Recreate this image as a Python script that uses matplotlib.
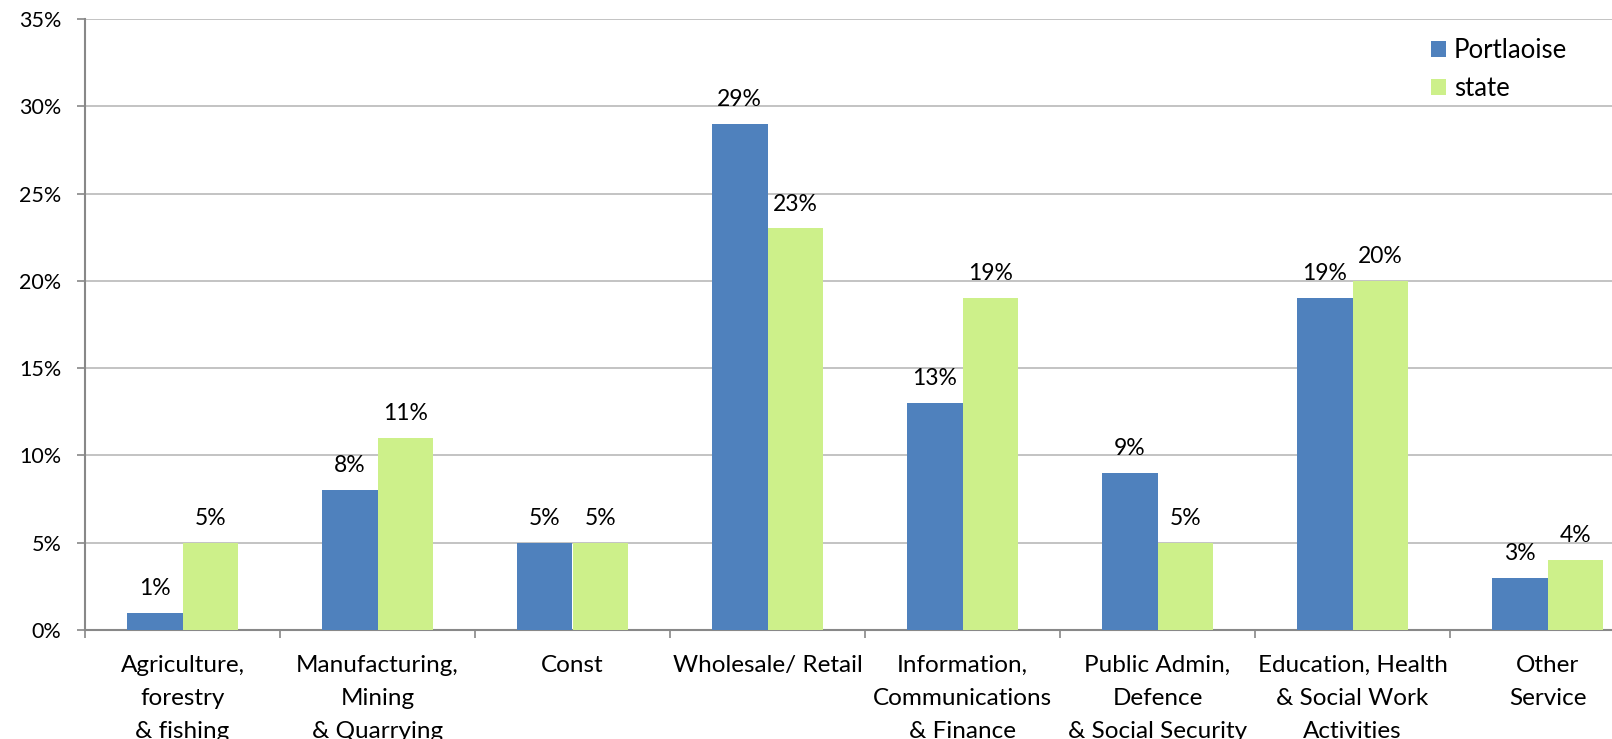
import matplotlib
matplotlib.use("Agg")
import matplotlib.pyplot as plt
import numpy as np

categories = [
    "Agriculture,\nforestry\n& fishing",
    "Manufacturing,\nMining\n& Quarrying",
    "Const",
    "Wholesale/ Retail",
    "Information,\nCommunications\n& Finance",
    "Public Admin,\nDefence\n& Social Security",
    "Education, Health\n& Social Work\nActivities",
    "Other\nService",
]
portlaoise = [1, 8, 5, 29, 13, 9, 19, 3]
state = [5, 11, 5, 23, 19, 5, 20, 4]
series_names = ["Portlaoise", "state"]
yticks = [0, 5, 10, 15, 20, 25, 30, 35]

plt.rcParams['font.family'] = ['Lato', 'DejaVu Sans']

W, H = 1612, 739
fig = plt.figure(figsize=(W / 100, H / 100), dpi=100)
left = 85 / W
bottom = 1 - 630 / H
top = 1 - 19 / H
right_px = 1645
ax = fig.add_axes([left, bottom, (right_px - 85) / W, top - bottom])

x = np.arange(len(categories))
bw = 0.285
blue = "#4F81BD"
green = "#CDF08A"
b1 = ax.bar(x - bw / 2, portlaoise, bw, color=blue, label=series_names[0], zorder=3)
b2 = ax.bar(x + bw / 2, state, bw, color=green, label=series_names[1], zorder=3)

for bars in (b1, b2):
    ax.bar_label(bars, labels=[f"{int(v)}%" for v in bars.datavalues],
                 padding=10, fontsize=16.5, color="black")

ax.set_xlim(-0.5, len(categories) - 0.5)
ax.set_ylim(0, 35)
ax.set_yticks(yticks)
ax.set_yticklabels([f"{v}%" for v in yticks], fontsize=15.5)
ax.yaxis.grid(True, color="#BEBEBE", linewidth=1.3, zorder=0)
ax.set_axisbelow(True)

# category boundaries as major ticks, labels as minor ticks
ax.set_xticks(np.arange(len(categories) + 1) - 0.5)
ax.set_xticklabels([])
ax.set_xticks(x, minor=True)
ax.set_xticklabels(categories, minor=True, fontsize=17.5, linespacing=1.7)
ax.tick_params(axis='x', which='major', length=5.5, width=1.2, color="#888888", direction='out')
ax.tick_params(axis='x', which='minor', length=0, pad=18)
ax.tick_params(axis='y', length=6, width=1.2, color="#888888", pad=11)

for s in ("top", "right"):
    ax.spines[s].set_visible(False)
for s in ("left", "bottom"):
    ax.spines[s].set_color("#888888")
    ax.spines[s].set_linewidth(1.5)

ax.legend(loc="upper left", bbox_to_anchor=(1431 / W, 1 - 38 / H),
          bbox_transform=fig.transFigure, frameon=False, fontsize=18.5,
          handlelength=0.58, handleheight=0.58, handletextpad=0.3,
          labelspacing=0.5, borderaxespad=0, borderpad=0)

fig.savefig("out.png", dpi=100)
